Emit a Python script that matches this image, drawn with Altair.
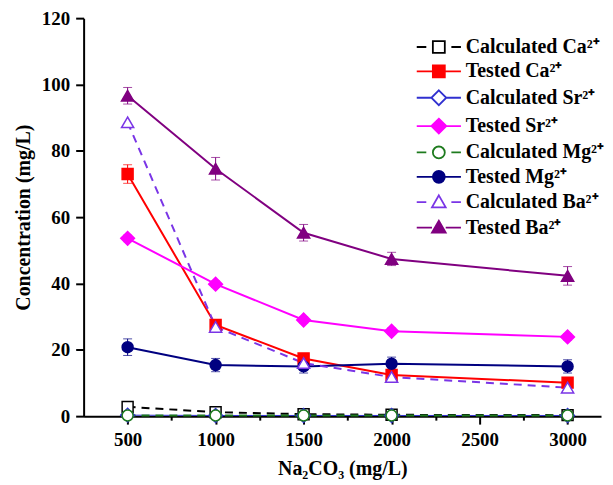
import altair as alt
import pandas as pd

# ---- data ----
x_vals = [500, 1000, 1500, 2000, 3000]

series_names = [
    "Calculated Ca²⁺", "Tested Ca²⁺",
    "Calculated Sr²⁺", "Tested Sr²⁺",
    "Calculated Mg²⁺", "Tested Mg²⁺",
    "Calculated Ba²⁺", "Tested Ba²⁺",
]

calc_ca = [2.8, 1.2, 0.6, 0.4, 0.3]
test_ca = [73.0, 27.5, 17.4, 12.4, 10.1]
calc_sr = [0.3, 0.2, 0.2, 0.2, 0.2]
test_sr = [53.6, 39.8, 29.0, 25.6, 23.9]
calc_mg = [0.2, 0.2, 0.2, 0.2, 0.2]
test_mg = [20.8, 15.4, 15.0, 15.8, 15.0]
calc_ba = [88.6, 26.9, 16.0, 11.8, 8.6]
test_ba = [96.6, 74.6, 55.3, 47.4, 42.3]

err_ca = [2.8, 1.5, 1.5, 1.2, 1.2]
err_sr = [1.0, 1.0, 1.0, 1.0, 1.0]
err_mg = [2.5, 2.0, 2.0, 2.0, 2.0]
err_ba = [2.5, 3.4, 2.5, 2.0, 2.8]
no_err = [0, 0, 0, 0, 0]

values = [calc_ca, test_ca, calc_sr, test_sr, calc_mg, test_mg, calc_ba, test_ba]
errors = [no_err, err_ca, no_err, err_sr, no_err, err_mg, no_err, err_ba]

# ---- styles ----
colors = ["#000000", "#ff0000", "#3030d0", "#ff00ff", "#1e7b1e", "#000080", "#7a35e6", "#800080"]
fills = ["white", "#ff0000", "white", "#ff00ff", "white", "#000080", "white", "#800080"]
dashes = [[8, 6], [], [], [], [8, 6], [], [8, 6], []]
widths = [2, 2, 1, 2, 2, 2, 2, 2]
shapes = ["square", "square", "diamond", "diamond", "circle", "circle", "triangle-up", "triangle-up"]
sizes = [121, 121, 190, 190, 121, 121, 150, 150]

def legend_path(marker, dashed):
    m = {
        "square": ("M-1,-1H1V1H-1Z", 1.0),
        "diamond": ("M0,-1.25L1.25,0L0,1.25L-1.25,0Z", 1.25),
        "circle": ("M-1,0A1,1,0,1,1,1,0A1,1,0,1,1,-1,0Z", 1.0),
        "triangle-up": ("M0,-1.15L1.15,0.85H-1.15Z", 1.15),
    }[marker]
    if dashed:
        line = "M-3.7,0H-2.1M2.1,0H3.7"
    else:
        line = "M-3.7,0H-%sM%s,0H3.7" % (m[1], m[1])
    return line + m[0]

legend_paths = [legend_path(s, len(d) > 0) for s, d in zip(shapes, dashes)]

rows = []
for name, vals, errs in zip(series_names, values, errors):
    for xv, yv, ev in zip(x_vals, vals, errs):
        rows.append({"series": name, "x": xv, "y": yv, "err": ev,
                     "lo": yv - ev, "hi": yv + ev})
df = pd.DataFrame(rows)

FONT = "Liberation Serif"

x_axis = alt.Axis(
    values=list(range(500, 3001, 250)), format="d",
    labelExpr="datum.value % 500 === 0 ? datum.label : ''",
    tickSize={"condition": {"test": "datum.value % 500 === 0", "value": 8}, "value": 4},
    tickWidth=2, domainWidth=2, domainColor="black", tickColor="black",
    labelFont=FONT, labelFontSize=19, labelFontWeight="bold", labelColor="black",
    labelPadding=6, labelFlush=False, labelOverlap=False,
    titleFont=FONT, titleFontSize=20, titleFontWeight="bold", titleColor="black",
    titlePadding=10, grid=False,
)
y_axis = alt.Axis(
    values=list(range(0, 121, 10)),
    labelExpr="datum.value % 20 === 0 ? datum.label : ''",
    tickSize={"condition": {"test": "datum.value % 20 === 0", "value": 8}, "value": 4},
    tickWidth=2, domainWidth=2, domainColor="black", tickColor="black",
    labelFont=FONT, labelFontSize=19, labelFontWeight="bold", labelColor="black",
    labelPadding=6, labelOverlap=False,
    titleFont=FONT, titleFontSize=20, titleFontWeight="bold", titleColor="black",
    titlePadding=8, grid=False,
)

x_enc = alt.X("x:Q", scale=alt.Scale(domain=[250, 3190], nice=False, zero=False),
              axis=x_axis, title="Na₂CO₃ (mg/L)")
y_enc = alt.Y("y:Q", scale=alt.Scale(domain=[0, 120], nice=False),
              axis=y_axis, title="Concentration (mg/L)")

# layer that only supplies the legend (line + marker symbols); its marks are hidden
leg = alt.Legend(
    title=None, orient="none", legendX=347, legendY=19,
    symbolSize=144, symbolStrokeWidth=1.8, symbolOpacity=1,
    labelOffset=17, rowPadding=4.5,
    labelFont=FONT, labelFontSize=20, labelFontWeight="bold", labelColor="black",
    labelLimit=400, padding=0,
)
legend_layer = alt.Chart(df).mark_point(filled=True, opacity=0).encode(
    x=x_enc, y=y_enc,
    shape=alt.Shape("series:N", scale=alt.Scale(domain=series_names, range=legend_paths), legend=leg),
    fill=alt.Fill("series:N", scale=alt.Scale(domain=series_names, range=fills), legend=leg),
    stroke=alt.Stroke("series:N", scale=alt.Scale(domain=series_names, range=colors), legend=leg),
)

layers = [legend_layer]
for name, col, dash, wd in zip(series_names, colors, dashes, widths):
    base = alt.Chart(df).transform_filter(alt.datum.series == name)
    line_kw = dict(color=col, strokeWidth=wd)
    if dash:
        line_kw["strokeDash"] = dash
    layers.append(base.mark_line(**line_kw).encode(x="x:Q", y="y:Q", order="x:Q"))

for name, col in zip(series_names, colors):
    base = alt.Chart(df).transform_filter(alt.datum.series == name).transform_filter(alt.datum.err > 0)
    layers.append(base.mark_rule(color=col, strokeWidth=1).encode(x="x:Q", y="lo:Q", y2="hi:Q"))
    layers.append(
        base.transform_fold(["lo", "hi"], as_=["k", "cap"]).mark_tick(
            orient="horizontal", size=9, thickness=1, color=col).encode(x="x:Q", y="cap:Q")
    )

for name, shp, sz, fc, sc in zip(series_names, shapes, sizes, fills, colors):
    layers.append(
        alt.Chart(df).transform_filter(alt.datum.series == name).mark_point(
            shape=shp, size=sz, filled=True, fill=fc, stroke=sc, strokeWidth=1.5, opacity=1
        ).encode(x="x:Q", y="y:Q")
    )

chart = alt.layer(*layers).properties(
    width=520, height=400,
    padding={"left": 5, "top": 0, "right": 0, "bottom": 5},
    background="white",
).configure_view(stroke=None)

chart.save("out.html", embed_options={"renderer": "svg", "actions": False})
